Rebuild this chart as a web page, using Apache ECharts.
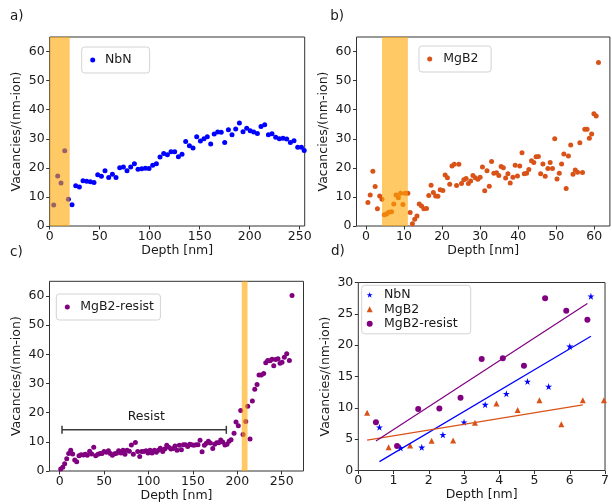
<!DOCTYPE html>
<html><head><meta charset="utf-8">
<script src="https://cdn.jsdelivr.net/npm/echarts@6/dist/echarts.min.js"></script>
<style>html,body{margin:0;padding:0;background:#fff}#c{width:612px;height:504px}</style>
</head><body><div id="c"></div>
<script>
// ---------- Panel a: NbN ----------
const nbnDepth = [4,8,11.3,15,18.7,22.3,26,29.7,33.3,37,40.7,44.3,48,51.7,55.3,59,62.7,66.3,70,73.7,77.3,81,84.7,88.3,92,95.7,99.3,103,106.7,110.3,114,117.7,121.3,125,128.7,132.3,136,139.7,143.3,147,150.7,154.3,157.6,161,164.5,168,171.5,175,178.7,182.3,186,189.7,193.3,197,200.5,204,207.7,211.3,215,218.7,222.3,226,229.7,233.3,237,240.7,244.3,248,251.7,254.5];
const nbnVac = [7.2,17.2,14.8,25.9,9.2,7.3,13.8,13.4,15.6,15.4,15.2,15.0,17.6,17.1,19.0,16.7,17.8,16.7,20.0,20.3,19.0,20.3,21.4,19.5,19.7,19.9,19.8,20.9,21.4,23.7,24.9,24.5,25.5,25.5,23.8,24.7,29.1,27.6,26.8,30.7,29.2,30.0,30.7,28.2,31.6,32.3,32.2,28.7,33.1,31.4,33.4,35.4,32.4,33.6,32.8,32.3,31.8,34.2,34.8,31.4,31.7,30.5,30.0,30.2,29.9,28.7,29.3,27.1,27.1,26.0];
const bandA = [0, 20];

// ---------- Panel b: MgB2 ----------
const mgb2Depth = [0.5,1.1,1.8,2.4,3.0,3.6,4.2,4.8,5.4,6.0,6.7,7.3,7.9,8.5,9.1,9.7,10.3,11.0,11.6,12.2,12.8,13.4,14.0,14.6,15.2,15.9,16.5,17.1,17.7,18.3,18.9,19.5,20.2,20.8,21.4,22.0,22.6,23.2,23.8,24.4,25.1,25.7,26.3,26.9,27.5,28.1,28.7,29.4,30.0,30.6,31.2,31.8,32.4,33.0,33.6,34.3,34.9,35.5,36.1,36.7,37.3,37.9,38.6,39.2,39.8,40.4,41.0,41.6,42.2,42.8,43.5,44.1,44.7,45.3,45.9,46.5,47.1,47.8,48.4,49.0,49.6,50.2,50.8,51.4,52.0,52.6,53.2,53.8,54.4,55.0,55.6,56.2,56.9,57.5,58.1,58.7,59.3,59.9,60.5,61.1];
const mgb2Vac = [8.1,10.7,18.8,13.6,5.9,10.3,9.2,3.9,4.1,4.7,4.9,7.6,10.7,9.7,11.3,7.4,11.3,11.3,4.6,0.8,2.3,3.4,7.6,6.9,5.9,6.0,10.5,14.0,11.5,10.3,10.2,12.5,12.2,17.5,16.6,14.4,20.6,21.2,13.9,21.2,14.6,15.9,16.3,14.6,15.5,17.4,16.6,16.1,16.8,20.3,12.1,19.0,13.7,22.2,18.1,18.3,17.4,20.5,20.0,16.5,18.0,14.8,16.8,20.9,17.2,20.6,25.2,18.0,18.1,19.4,22.4,21.8,23.8,23.9,18.0,21.3,17.1,19.8,21.8,19.8,30.0,16.2,18.1,21.3,24.8,12.9,24.1,27.9,17.8,19.3,18.5,28.6,18.4,33.3,33.3,30.2,31.6,38.6,37.8,56.2];
const bandB = [4.2, 11.0];

// ---------- Panel c: MgB2-resist ----------
const resistDepth = [1.1,3.4,5.6,7.9,10.1,12.4,14.6,16.9,19.1,21.7,24,26.6,28.9,31.1,33.7,36,38.3,40.5,43.1,45.4,47.6,49.9,52.5,54.8,57,59.3,61.9,64.1,66.4,69,71.3,73.5,75.8,78.4,80.7,82.9,85.2,87.8,90.1,92.3,94.6,97.2,99.4,101.7,103.9,106.6,108.8,111.1,113.3,116,118.2,120.5,122.7,125.3,127.6,129.8,132.1,134.7,137,139.2,141.5,144.1,146.4,148.6,150.9,153.5,155.7,158,160.3,162.9,165.1,167.4,169.6,172.3,174.5,176.8,179,181.3,183.5,186.1,188.4,190.7,192.9,196.3,198.5,201.1,203.8,206.4,209.5,211.7,214.3,216.9,219.6,222.2,224.4,227,229.7,232,234.2,236.8,239.1,241,243.2,245.8,248.1,250.3,252.9,255.6,258.6,261.6];
const resistVac = [0.7,1.3,2.5,4.2,6.0,7.1,5.8,3.8,3.2,5.2,5.6,5.5,5.7,5.4,6.8,5.8,8.1,5.2,5.7,6.0,6.0,6.7,6.4,6.9,6.0,5.4,5.9,6.1,6.9,6.2,7.1,5.7,7.1,6.8,8.9,5.7,9.8,6.7,5.0,6.7,6.7,6.9,6.2,7.1,6.2,7.1,6.4,7.1,7.8,6.7,7.5,8.8,8.1,7.5,7.7,8.6,7.1,8.8,7.3,9.0,9.0,8.4,9.2,9.0,8.8,9.0,9.0,10.5,6.6,8.8,9.5,10.2,9.6,7.7,9.2,9.7,9.7,10.6,9.9,8.9,9.2,10.2,10.7,12.9,16.8,15.5,20.7,12.5,17.0,22.2,11.0,24.0,28.0,29.6,32.9,32.9,33.4,37.1,37.9,37.8,38.3,36.1,38.2,38.5,36.9,37.3,39.0,40.2,37.9,60.1];
const bandC = [205, 211.5];
const resistSpan = [2.6, 187.6];
const resistSpanY = 14.1;
const resistLabelPos = [97.5, 18.5];
const resistLabel = 'Resist';

// ---------- Panel d ----------
const dNbnX = [0.6,1.2,1.8,2.4,3.0,3.6,4.2,4.8,5.4,6.0,6.6];
const dNbnY = [6.9,3.6,3.7,5.7,7.7,10.5,12.25,14.2,13.4,19.8,27.8];
const dMgb2X = [0.25,0.86,1.47,2.08,2.69,3.31,3.92,4.52,5.14,5.76,6.37,6.97];
const dMgb2Y = [9.2,3.7,4.0,4.75,4.8,7.6,10.7,9.65,11.2,7.4,11.2,11.2];
const dMgb2FitCount = 11;
const dResistX = [0.5,1.1,1.7,2.3,2.9,3.5,4.1,4.7,5.3,5.9,6.5];
const dResistY = [7.7,3.9,9.8,9.9,11.6,17.8,17.9,16.7,27.5,25.5,24.05];

// ---------- ticks ----------
const vacTicks = [0,10,20,30,40,50,60];
const depthTicksA = [0,50,100,150,200,250];
const depthTicksB = [0,10,20,30,40,50,60];
const depthTicksC = [0,50,100,150,200,250];

const colors = {NbN:'#0000ff', MgB2:'#d95319', 'MgB2-resist':'#800080'};
const bandColor = '#ffa500';
const starPath = 'path://M50,2 L61.2,36.5 L97.6,36.5 L68.2,57.9 L79.4,92.4 L50,71.1 L20.6,92.4 L31.8,57.9 L2.4,36.5 L38.8,36.5 Z';

const zip = (a,b) => a.map((v,i)=>[v,b[i]]);
function fitLine(xs, ys, n){
  n = n || xs.length;
  let sx=0, sy=0, sxx=0, sxy=0;
  for(let i=0;i<n;i++){sx+=xs[i];sy+=ys[i];sxx+=xs[i]*xs[i];sxy+=xs[i]*ys[i];}
  const b = (n*sxy - sx*sy)/(n*sxx - sx*sx);
  const a = (sy - b*sx)/n;
  return [[xs[0], a+b*xs[0]], [xs[n-1], a+b*xs[n-1]]];
}

const FONT = 'DejaVu Sans';
const FS = 12.5;
const TXT = '#1a1a1a';
const AX = '#333';

function xAx(gi, min, max, ticks, interval){
  const o = {type:'value', gridIndex:gi, min:min, max:max,
    name:'Depth [nm]', nameLocation:'middle', nameGap:17,
    nameTextStyle:{fontSize:FS, color:TXT, fontFamily:FONT},
    axisLine:{show:false, onZero:false}, splitLine:{show:false},
    axisTick:{show:true, length:3.5, lineStyle:{color:AX, width:1}},
    axisLabel:{fontSize:FS, color:TXT, fontFamily:FONT, margin:4}};
  if (ticks){ o.axisTick.customValues = ticks; o.axisLabel.customValues = ticks; }
  if (interval){ o.interval = interval; }
  return o;
}
function yAx(gi, min, max, ticks, interval){
  const o = {type:'value', gridIndex:gi, min:min, max:max,
    name:'Vacancies/(nm-ion)', nameLocation:'middle', nameGap:26,
    nameTextStyle:{fontSize:FS, color:TXT, fontFamily:FONT},
    axisLine:{show:false, onZero:false}, splitLine:{show:false},
    axisTick:{show:true, length:3.5, lineStyle:{color:AX, width:1}},
    axisLabel:{fontSize:FS, color:TXT, fontFamily:FONT, margin:5}};
  if (ticks){ o.axisTick.customValues = ticks; o.axisLabel.customValues = ticks; }
  if (interval){ o.interval = interval; }
  return o;
}
function bandSeries(gi, band){
  return {type:'scatter', xAxisIndex:gi, yAxisIndex:gi, data:[[band[0],0]], symbolSize:0, silent:true, z:10,
    markArea:{silent:true, z:10, itemStyle:{color:bandColor, opacity:0.6}, data:[[{xAxis:band[0]},{xAxis:band[1]}]]}};
}
function legendBox(items, left, top, pad, textPadL, extra){
  return Object.assign({
    data: items, left:left, top:top, orient:'vertical', padding:pad,
    itemWidth:5, itemHeight:5, itemGap:1.5,
    backgroundColor:'rgba(255,255,255,0.85)', borderColor:'#d3d3d3', borderWidth:1, borderRadius:3,
    textStyle:{fontSize:FS, color:TXT, fontFamily:FONT, padding:[0,0,0,textPadL]},
    selectedMode:false
  }, extra||{});
}
const gridStyle = {show:true, borderColor:AX, borderWidth:1, backgroundColor:'transparent'};

const fitN = fitLine(dNbnX, dNbnY);
const fitM = fitLine(dMgb2X, dMgb2Y, dMgb2FitCount);
const fitR = fitLine(dResistX, dResistY);

const titleStyle = {fontSize:13.5, fontWeight:'normal', color:TXT, fontFamily:FONT};
const option = {
  animation:false,
  textStyle:{fontFamily:FONT},
  title:[
    {text:'a)', left:10, top:9.5, padding:0, textStyle:titleStyle},
    {text:'b)', left:330.3, top:9.5, padding:0, textStyle:titleStyle},
    {text:'c)', left:10, top:245.5, padding:0, textStyle:titleStyle},
    {text:'d)', left:331, top:244.5, padding:0, textStyle:titleStyle}
  ],
  grid:[
    Object.assign({left:49.7, top:37, width:255, height:189}, gridStyle),
    Object.assign({left:356.5, top:37, width:253.4, height:189}, gridStyle),
    Object.assign({left:49.5, top:281.3, width:254, height:189.7}, gridStyle),
    Object.assign({left:358.3, top:282.5, width:249.2, height:188}, gridStyle)
  ],
  xAxis:[
    xAx(0, 0, 255, depthTicksA),
    xAx(1, -2.5, 64.1, depthTicksB),
    xAx(2, -11.5, 274.5, depthTicksC),
    xAx(3, 0, 7, null, 1)
  ],
  yAxis:[
    yAx(0, 0, 65, vacTicks),
    yAx(1, 0, 65, vacTicks),
    yAx(2, 0, 65, vacTicks),
    yAx(3, 0, 30, null, 5)
  ],
  legend:[
    legendBox([{name:'NbN', icon:'circle'}], 81.7, 47, [6.5,18,6.5,8.5], 4.8),
    legendBox([{name:'MgB2', icon:'circle'}], 419, 46, [6.5,12.7,6.5,8.2], 6),
    legendBox([{name:'MgB2-resist', icon:'circle'}], 56.3, 294, [6.5,6.4,6.5,8.5], 5.5),
    legendBox([{name:'NbN', icon:starPath},{name:'MgB2', icon:'triangle'},{name:'MgB2-resist', icon:'circle'}], 361.7, 285.3, [3,13,3.5,5], 6.3, {itemWidth:6, itemHeight:6})
  ],
  series:[
    {name:'NbN', type:'scatter', xAxisIndex:0, yAxisIndex:0, data:zip(nbnDepth, nbnVac), symbolSize:5, itemStyle:{color:colors.NbN, opacity:1}},
    bandSeries(0, bandA),
    {name:'MgB2', type:'scatter', xAxisIndex:1, yAxisIndex:1, data:zip(mgb2Depth, mgb2Vac), symbolSize:5, itemStyle:{color:colors.MgB2, opacity:1}},
    bandSeries(1, bandB),
    {name:'MgB2-resist', type:'scatter', xAxisIndex:2, yAxisIndex:2, data:zip(resistDepth, resistVac), symbolSize:5, itemStyle:{color:colors['MgB2-resist'], opacity:1}},
    bandSeries(2, bandC),
    {name:'resistBracket', type:'line', xAxisIndex:2, yAxisIndex:2, data:[[resistSpan[0],resistSpanY],[resistSpan[1],resistSpanY]],
      lineStyle:{color:'#3a3a3a', width:1.5}, symbol:'rect', symbolSize:[1.5,8], showSymbol:true, itemStyle:{color:'#3a3a3a', opacity:1}, silent:true, z:4},
    {name:'resistText', type:'scatter', xAxisIndex:2, yAxisIndex:2, data:[{value:resistLabelPos, name:resistLabel}], symbolSize:1, silent:true,
      itemStyle:{color:'rgba(0,0,0,0)', opacity:1},
      label:{show:true, position:'inside', formatter:'{b}', fontSize:FS, color:TXT, fontFamily:FONT, opacity:1}},
    {name:'NbN', type:'scatter', xAxisIndex:3, yAxisIndex:3, data:zip(dNbnX, dNbnY), symbol:starPath, symbolSize:7, itemStyle:{color:colors.NbN, opacity:1}},
    {name:'MgB2', type:'scatter', xAxisIndex:3, yAxisIndex:3, data:zip(dMgb2X, dMgb2Y), symbol:'triangle', symbolSize:6, itemStyle:{color:colors.MgB2, opacity:1}},
    {name:'MgB2-resist', type:'scatter', xAxisIndex:3, yAxisIndex:3, data:zip(dResistX, dResistY), symbol:'circle', symbolSize:6, itemStyle:{color:colors['MgB2-resist'], opacity:1}},
    {name:'fitNbN', type:'line', xAxisIndex:3, yAxisIndex:3, data:fitN, symbol:'none', lineStyle:{color:colors.NbN, width:1.2}, silent:true},
    {name:'fitMgB2', type:'line', xAxisIndex:3, yAxisIndex:3, data:fitM, symbol:'none', lineStyle:{color:colors.MgB2, width:1.2}, silent:true},
    {name:'fitResist', type:'line', xAxisIndex:3, yAxisIndex:3, data:fitR, symbol:'none', lineStyle:{color:colors['MgB2-resist'], width:1.2}, silent:true}
  ]
};
const chart = echarts.init(document.getElementById('c'), null, {renderer:'canvas'});
chart.setOption(option);
</script>
</body></html>
